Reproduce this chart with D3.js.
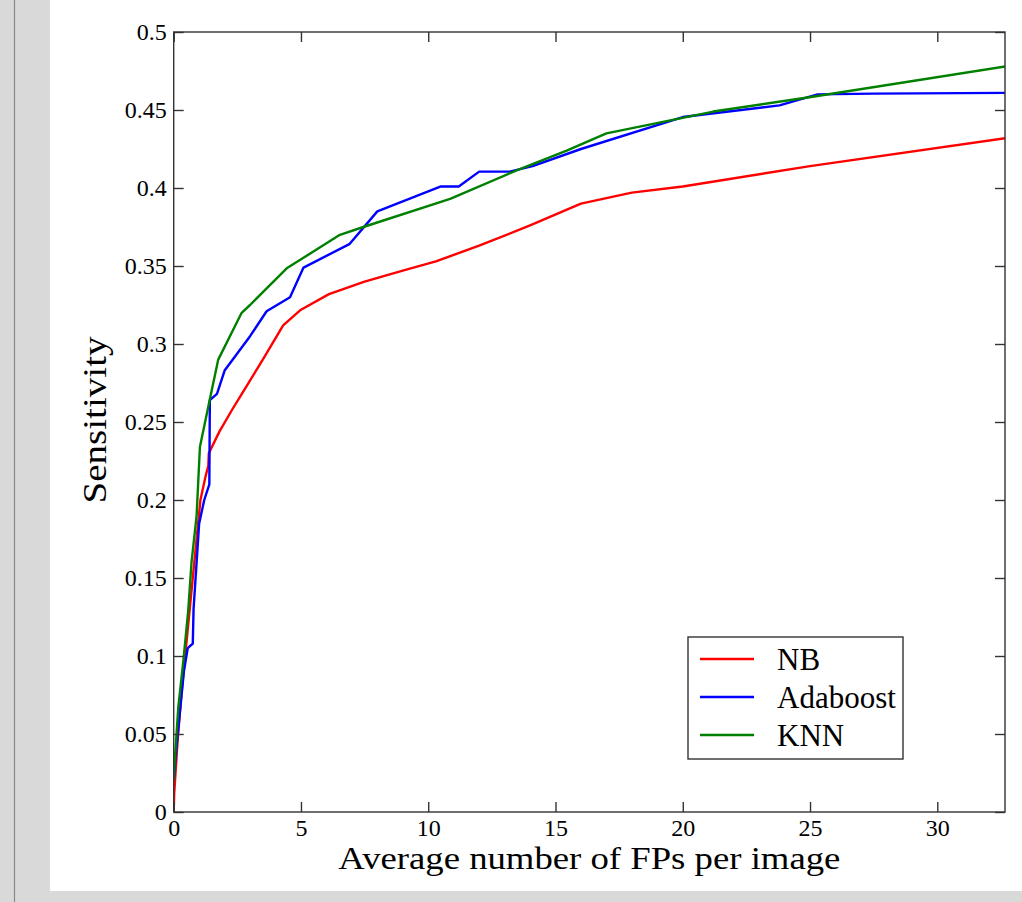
<!DOCTYPE html>
<html>
<head>
<meta charset="utf-8">
<script src="https://cdn.jsdelivr.net/npm/d3@7/dist/d3.min.js"></script>
<style>
  html, body { margin: 0; padding: 0; background: #d9d9d9; }
  svg { display: block; }
  text { font-family: "Liberation Serif", "DejaVu Serif", serif; fill: #000; }
</style>
</head>
<body>
<svg id="chart" width="1022" height="902"></svg>
<script>
// values (x = average FPs per image, y = sensitivity)
var nbFP   = [0, 0.02, 0.15, 0.3, 0.45, 0.6, 0.75, 0.9, 1.05, 1.25, 1.36, 1.38, 1.8, 2.3, 2.9, 3.5, 4.3, 5.0, 6.1, 7.5, 9.0, 10.3, 12.0, 14.0, 16.0, 18.0, 20.0, 25.0, 32.7];
var nbSens = [0, 0.012, 0.045, 0.075, 0.1, 0.125, 0.15, 0.175, 0.2, 0.215, 0.222, 0.23, 0.244, 0.258, 0.274, 0.29, 0.312, 0.322, 0.332, 0.34, 0.347, 0.353, 0.363, 0.376, 0.39, 0.397, 0.401, 0.414, 0.432];

var adaFP   = [0, 0.1, 0.25, 0.4, 0.55, 0.75, 0.78, 0.9, 1.0, 1.2, 1.4, 1.42, 1.7, 2.0, 3.0, 3.65, 4.57, 5.1, 6.9, 8.0, 10.5, 11.2, 12.0, 13.2, 14.1, 16.0, 20.0, 23.8, 25.3, 27.5, 32.7];
var adaSens = [0.02, 0.04, 0.065, 0.09, 0.105, 0.108, 0.13, 0.16, 0.185, 0.2, 0.21, 0.264, 0.268, 0.283, 0.305, 0.321, 0.33, 0.349, 0.364, 0.385, 0.401, 0.401, 0.4105, 0.4105, 0.414, 0.425, 0.4455, 0.453, 0.46, 0.4605, 0.461];

var knnFP   = [0, 0.05, 0.18, 0.38, 0.57, 0.7, 0.9, 1.03, 1.36, 1.75, 2.67, 3.0, 4.44, 6.53, 7.45, 10.86, 13.5, 15.44, 17.0, 21.2, 25.1, 32.7];
var knnSens = [0.02, 0.035, 0.067, 0.097, 0.129, 0.16, 0.19, 0.234, 0.26, 0.29, 0.32, 0.325, 0.3485, 0.37, 0.375, 0.393, 0.4115, 0.424, 0.435, 0.449, 0.4585, 0.478];

var seriesNames  = ["NB", "Adaboost", "KNN"];
var seriesColors = ["#ff0000", "#0000ff", "#008000"];

var xTicks = [0, 5, 10, 15, 20, 25, 30];
var yTicks = [0, 0.05, 0.1, 0.15, 0.2, 0.25, 0.3, 0.35, 0.4, 0.45, 0.5];
var xMax = 32.66;
var yMax = 0.5;

var plotLeft = 173.7;
var plotRight = 1005;
var plotTop = 32;
var plotBottom = 812;
var tickLength = 10;
var axisColor = "#333";

var svg = d3.select("#chart");

/**
 * Paint the page: grey surround with the white figure panel on top
 */
var drawBackground = function() {
    svg.append("rect")
        .attr("x", 0).attr("y", 0)
        .attr("width", 1022).attr("height", 902)
        .attr("fill", "#d9d9d9");
    svg.append("line")
        .attr("x1", 14.5).attr("y1", 0)
        .attr("x2", 14.5).attr("y2", 902)
        .attr("stroke", "#8a8a8a").attr("stroke-width", 1.2);
    svg.append("rect")
        .attr("x", 50).attr("y", 0)
        .attr("width", 972).attr("height", 891)
        .attr("fill", "#fff");
};

var x = d3.scaleLinear().domain([0, xMax]).range([plotLeft, plotRight]);
var y = d3.scaleLinear().domain([0, yMax]).range([plotBottom, plotTop]);

/**
 * Draw the boxed frame with inward ticks on all four sides
 */
var drawAxes = function() {
    var fmtY = function(d) { return String(+d.toFixed(2)); };

    var bottom = d3.axisBottom(x).tickValues(xTicks).tickSizeInner(-tickLength).tickSizeOuter(0).tickPadding(7);
    var top = d3.axisTop(x).tickValues(xTicks).tickSizeInner(-tickLength).tickSizeOuter(0).tickFormat("");
    var left = d3.axisLeft(y).tickValues(yTicks).tickSizeInner(-tickLength).tickSizeOuter(0).tickPadding(7).tickFormat(fmtY);
    var right = d3.axisRight(y).tickValues(yTicks).tickSizeInner(-tickLength).tickSizeOuter(0).tickFormat("");

    var gb = svg.append("g").attr("transform", "translate(0," + plotBottom + ")").call(bottom);
    var gt = svg.append("g").attr("transform", "translate(0," + plotTop + ")").call(top);
    var gl = svg.append("g").attr("transform", "translate(" + plotLeft + ",0)").call(left);
    var gr = svg.append("g").attr("transform", "translate(" + plotRight + ",0)").call(right);

    [gb, gt, gl, gr].forEach(function(g) {
        g.select(".domain").remove();
        g.selectAll(".tick line").attr("stroke", axisColor).attr("stroke-width", 1.4);
        g.selectAll(".tick text")
            .attr("font-family", "Liberation Serif")
            .attr("font-size", 24)
            .attr("fill", "#000");
    });

    svg.append("rect")
        .attr("x", plotLeft).attr("y", plotTop)
        .attr("width", plotRight - plotLeft).attr("height", plotBottom - plotTop)
        .attr("fill", "none")
        .attr("stroke", axisColor).attr("stroke-width", 1.4);
};

/**
 * Draw the three sensitivity curves, clipped to the plot box
 */
var drawCurves = function() {
    svg.append("clipPath").attr("id", "plot-clip")
        .append("rect")
        .attr("x", plotLeft).attr("y", plotTop)
        .attr("width", plotRight - plotLeft).attr("height", plotBottom - plotTop);

    var allFP = [nbFP, adaFP, knnFP];
    var allSens = [nbSens, adaSens, knnSens];
    var line = d3.line()
        .x(function(d) { return x(d[0]); })
        .y(function(d) { return y(d[1]); });

    var g = svg.append("g").attr("clip-path", "url(#plot-clip)");
    for (var i = 0; i < allFP.length; i++) {
        var pts = d3.zip(allFP[i], allSens[i]);
        g.append("path")
            .datum(pts)
            .attr("d", line)
            .attr("fill", "none")
            .attr("stroke", seriesColors[i])
            .attr("stroke-width", 2.4)
            .attr("stroke-linejoin", "round");
    }
};

/**
 * Axis titles (the source figure is a little stretched sideways, so
 * the titles are widened to the same span)
 */
var drawLabels = function() {
    svg.append("text")
        .attr("x", (plotLeft + plotRight) / 2)
        .attr("y", 869)
        .attr("text-anchor", "middle")
        .attr("font-size", 31)
        .attr("textLength", 502)
        .attr("lengthAdjust", "spacingAndGlyphs")
        .text("Average number of FPs per image");

    svg.append("text")
        .attr("transform", "translate(106,420) rotate(-90)")
        .attr("text-anchor", "middle")
        .attr("font-size", 34)
        .attr("textLength", 167)
        .attr("lengthAdjust", "spacingAndGlyphs")
        .text("Sensitivity");
};

/**
 * Legend box in the lower right of the plot
 */
var drawLegend = function() {
    var lx = 688, ly = 637, lw = 215, lh = 122;
    var g = svg.append("g");
    g.append("rect")
        .attr("x", lx).attr("y", ly)
        .attr("width", lw).attr("height", lh)
        .attr("fill", "#fff")
        .attr("stroke", axisColor).attr("stroke-width", 1.4);
    var rowY = [659, 697, 735];
    for (var i = 0; i < seriesNames.length; i++) {
        g.append("line")
            .attr("x1", 700).attr("x2", 754)
            .attr("y1", rowY[i]).attr("y2", rowY[i])
            .attr("stroke", seriesColors[i]).attr("stroke-width", 2.4);
        g.append("text")
            .attr("x", 777).attr("y", rowY[i] + 11)
            .attr("font-size", 31)
            .text(seriesNames[i]);
    }
};

drawBackground();
drawCurves();
drawAxes();
drawLabels();
drawLegend();
</script>
</body>
</html>
